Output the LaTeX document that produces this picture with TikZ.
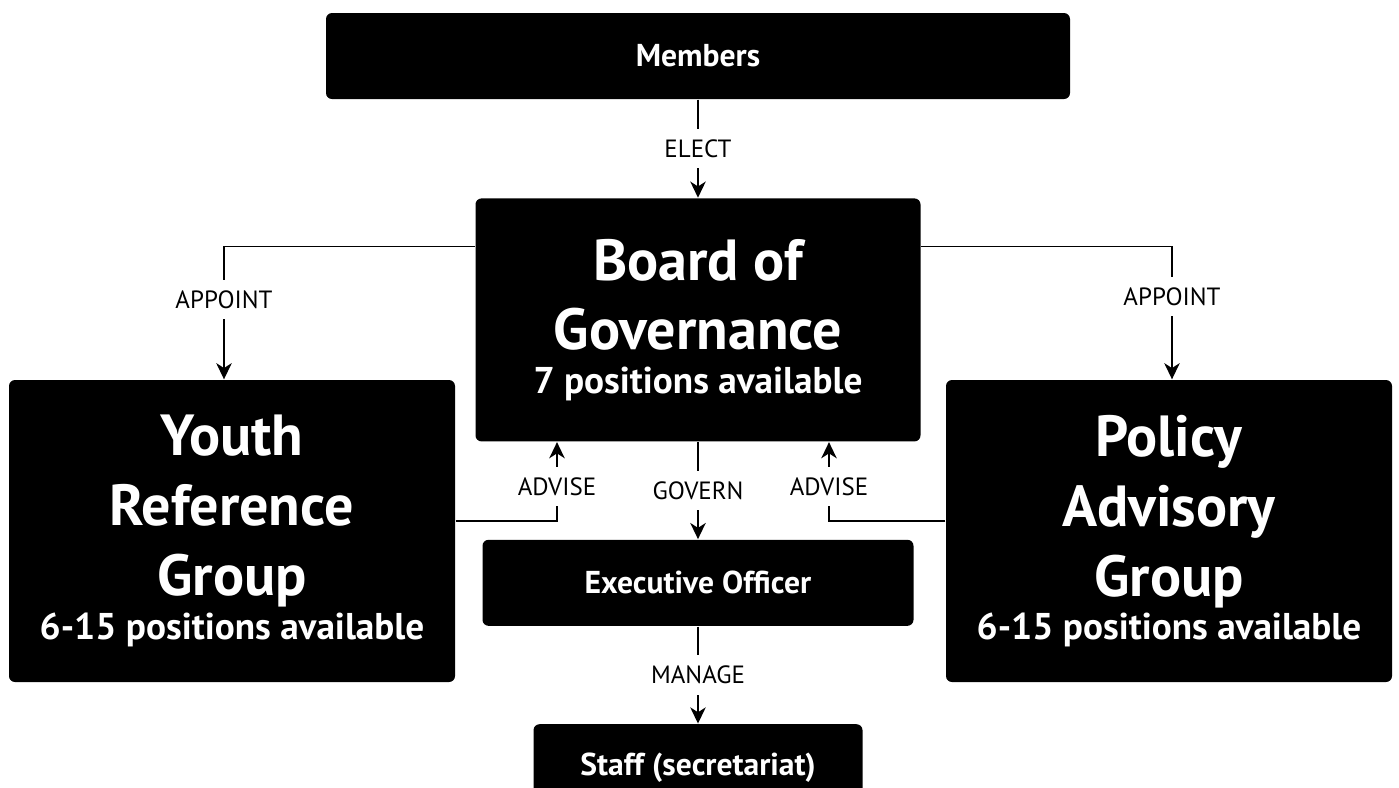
\documentclass[tikz,border=0pt]{standalone}
\usepackage{fontspec}
\setmainfont{PT Sans}
\usetikzlibrary{positioning, arrows.meta}
\newcommand{\bigtext}{\fontsize{16.5}{19.9}\selectfont}
\newcommand{\smalltext}{\fontsize{10.6}{14.2}\selectfont}
\tikzstyle{box} = [rectangle, fill=black, text=white, rounded corners=0.06cm, align=center, inner sep=0pt, font=\bfseries\fontsize{9}{11}\selectfont]
\tikzstyle{bigbox} = [box, font=\bfseries\bigtext, minimum width=4.46cm, minimum height=3.02cm]
\tikzstyle{arrow} = [line width=0.45pt, ->, >={Stealth[length=4.6pt,width=4.4pt,inset=1.4pt]}]
\tikzstyle{rel} = [fill=white, inner xsep=2pt, inner ysep=3pt, font=\fontsize{7.1}{8.5}\selectfont]

\begin{document}
\begin{tikzpicture}
    \useasboundingbox (0,0) rectangle (13.99,-7.87);
    \clip (0,0) rectangle (13.99,-7.87);
    % Boxes
    \node (members) [box, minimum width=7.44cm, minimum height=0.86cm] at (6.98,-0.56) {Members};
    \node (board) [bigbox, minimum width=4.45cm, minimum height=2.43cm, below=0.98cm of members] {Board of\\Governance\\[-7.5pt]\smalltext 7 positions available};
    \node (exec) [box, minimum width=4.31cm, minimum height=0.86cm, below=0.97cm of board] {Executive Officer};
    \node (staff) [box, minimum width=3.29cm, minimum height=0.86cm, below=0.97cm of exec] {Staff (secretariat)};
    \node (youth) [bigbox] at (2.32,-5.31) {Youth\\Reference\\Group\\[-7.5pt]\smalltext 6-15 positions available};
    \node (policy) [bigbox] at (11.69,-5.31) {Policy\\Advisory\\Group\\[-7.5pt]\smalltext 6-15 positions available};

    % Arrows
    \draw [arrow] (members.south) -- node[rel] {ELECT} (members.south |- board.north);
    \draw [arrow] ([yshift=0.735cm]board.west) -| node[rel, pos=0.70] {APPOINT} ([xshift=-0.08cm]youth.north);
    \draw [arrow] ([yshift=0.735cm]board.east) -| node[rel, pos=0.69] {APPOINT} ([xshift=0.03cm]policy.north);
    \draw [arrow] ([yshift=0.1cm]youth.east) -| node[rel, pos=0.72] {ADVISE} ([xshift=-1.41cm]board.south);
    \draw [arrow] ([yshift=0.1cm]policy.west) -| node[rel, pos=0.72] {ADVISE} ([xshift=1.31cm]board.south);
    \draw [arrow] (board.south) -- node[rel] {GOVERN} (exec.north);
    \draw [arrow] (exec.south) -- node[rel] {MANAGE} (staff.north);
\end{tikzpicture}
\end{document}
